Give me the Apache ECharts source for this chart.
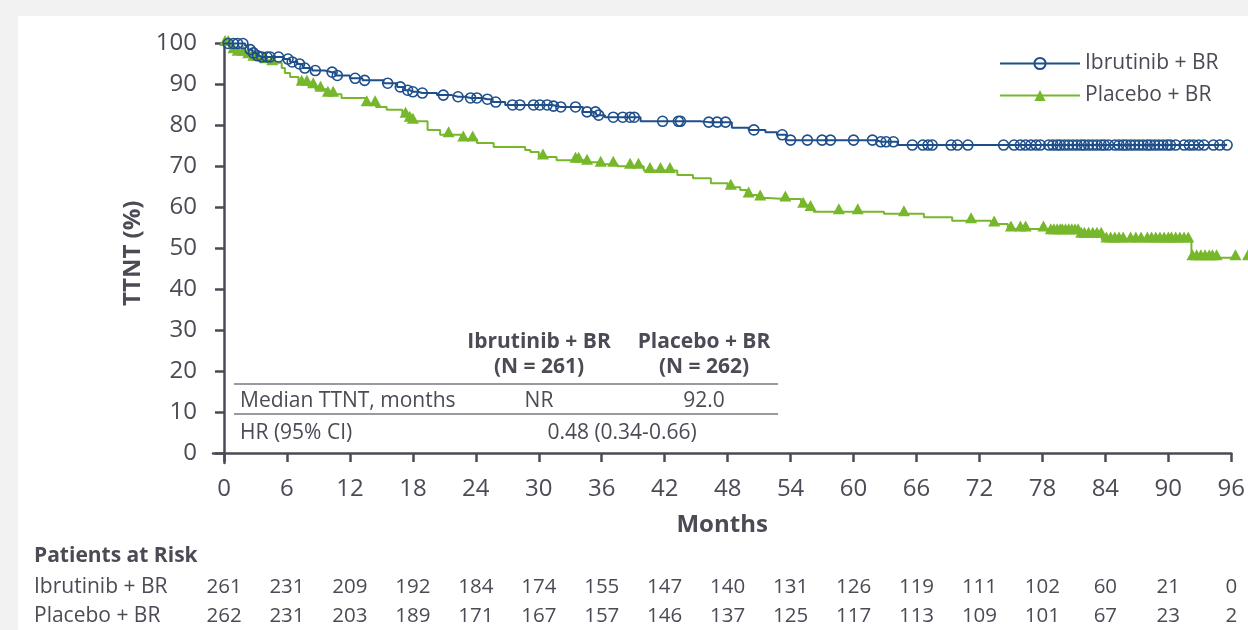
<!DOCTYPE html>
<html>
<head>
<meta charset="utf-8">
<script src="https://cdn.jsdelivr.net/npm/echarts@6/dist/echarts.min.js"></script>
<style>
  html, body { margin: 0; padding: 0; background: #f2f2f2; }
  #panel { position: absolute; left: 18px; top: 16px; right: 0; bottom: 0; background: #ffffff; }
  #chart { position: absolute; left: 0; top: 0; width: 1248px; height: 630px; }
</style>
</head>
<body>
<div id="panel"></div>
<div id="chart"></div>
<script>
// ---------- data ----------
const xTicks = [0, 6, 12, 18, 24, 30, 36, 42, 48, 54, 60, 66, 72, 78, 84, 90, 96];
const yTicks = [0, 10, 20, 30, 40, 50, 60, 70, 80, 90, 100];

const ibrName = 'Ibrutinib + BR';
const pboName = 'Placebo + BR';

// Kaplan-Meier step points [month, TTNT %]
const ibrSteps = [[0,100],[2.0,99.5],[2.3,98.5],[2.7,97.7],[3.1,97.0],[3.4,96.7],[5.7,96.2],[6.3,95.5],[7.0,95.0],[7.5,94.0],[8.4,93.4],[9.6,93.0],[10.6,92.2],[12.0,91.5],[13.2,91.0],[15.2,90.3],[16.5,89.4],[17.2,88.6],[17.7,88.2],[18.5,87.9],[20.3,87.4],[21.7,87.0],[23.0,86.7],[24.6,86.4],[25.6,85.7],[26.8,85.0],[31.3,84.7],[31.8,84.5],[34.2,83.3],[35.5,82.5],[36.3,82.0],[39.7,81.0],[45.4,80.8],[48.4,79.4],[50.0,78.9],[51.6,78.3],[52.7,77.7],[53.6,76.4],[62.2,76.0],[64.2,75.2]];
// censoring times (months)
const ibrCensor = [0.4,0.9,1.3,1.8,2.5,2.8,3.2,3.6,4.1,4.4,5.2,6.1,6.5,7.2,7.7,8.7,10.3,10.8,12.5,13.4,15.6,16.8,17.5,18.0,18.9,20.9,22.3,23.5,24.1,25.1,25.9,27.5,28.2,29.5,30.1,30.8,31.4,32.1,33.5,34.6,35.4,35.7,37.1,38.0,38.7,39.1,41.8,43.3,43.5,46.2,47.0,47.8,50.5,53.2,54.0,55.6,57.0,57.8,60.0,61.8,62.6,63.1,63.8,65.6,66.6,67.1,67.5,69.3,69.9,70.9,74.3,75.3,75.9,76.4,76.9,77.4,77.8,78.6,79.0,79.4,79.7,80.1,80.5,80.9,81.3,81.7,82.0,82.4,82.8,83.2,83.6,83.9,84.3,84.9,85.3,85.7,86.0,86.4,86.8,87.2,87.6,88.0,88.3,88.7,89.1,89.5,89.9,90.2,90.7,91.5,92.0,92.4,92.9,93.4,94.3,94.9,95.6];

const pboSteps = [[0,100],[0.5,99.0],[0.8,98.2],[1.2,97.6],[2.0,97.0],[2.6,96.4],[3.4,95.8],[4.2,95.3],[5.5,94.0],[5.8,92.8],[6.3,91.8],[7.1,90.3],[8.0,89.7],[8.7,88.8],[9.8,87.6],[11.2,86.7],[13.5,85.3],[14.5,84.5],[15.5,83.8],[17.0,82.5],[17.6,81.5],[17.9,81.0],[19.4,78.9],[20.6,77.7],[22.6,76.7],[24.1,75.7],[25.7,74.7],[28.7,74.0],[29.2,73.5],[30.0,72.3],[31.7,71.5],[34.4,71.0],[35.7,70.5],[37.5,70.0],[40.0,69.0],[43.2,67.9],[44.7,67.1],[46.4,65.9],[48.0,64.9],[49.2,64.2],[49.8,63.0],[50.8,62.3],[51.8,62.0],[55.0,60.5],[55.7,59.7],[56.2,58.9],[62.9,58.4],[66.7,57.6],[69.4,56.7],[73.1,55.9],[74.7,54.7],[78.7,54.0],[81.5,53.2],[83.7,52.0],[92.2,47.7]];
const pboCensor = [0.1,0.4,0.9,1.3,1.8,2.3,2.8,3.2,3.9,4.6,7.4,7.9,8.5,9.2,9.9,10.4,13.6,14.4,17.3,17.7,18.0,21.4,22.8,23.7,30.4,33.5,33.8,34.6,35.9,37.1,38.7,39.5,40.6,41.6,42.5,48.3,50.0,51.1,53.5,55.2,55.9,58.6,60.4,64.8,71.2,73.4,75.0,75.9,76.4,78.1,78.8,79.1,79.4,79.7,79.9,80.2,80.5,80.8,81.1,81.4,81.7,82.0,82.4,82.8,83.2,83.6,84.1,84.5,84.9,85.3,85.7,86.4,86.9,87.4,88.0,88.4,88.8,89.2,89.6,90.0,90.3,90.7,91.1,91.5,91.9,92.3,92.7,93.1,93.5,93.9,94.2,94.6,96.4,97.6];

const ibrRisk = [261, 231, 209, 192, 184, 174, 155, 147, 140, 131, 126, 119, 111, 102, 60, 21, 0];
const pboRisk = [262, 231, 203, 189, 171, 167, 157, 146, 137, 125, 117, 113, 109, 101, 67, 23, 2];

// ---------- build KM series data ----------
function kmData(steps, censor) {
  const valueAt = t => { let v = steps[0][1]; for (const s of steps) { if (s[0] <= t) v = s[1]; } return v; };
  const items = steps.map(s => ({ value: [s[0], s[1]], symbol: 'none' }));
  censor.forEach(t => items.push({ value: [t, valueAt(t)] }));
  items.sort((a, b) => a.value[0] - b.value[0]);
  return items;
}

const BLUE = '#1f4f8b';
const GREEN = '#77b72b';
const TXT = '#4b4b55';
const AX = '#4b4b55';
const FONT = '"Open Sans", "Noto Sans", sans-serif';
const FS = 21;

const chart = echarts.init(document.getElementById('chart'), null, { renderer: 'canvas' });

function riskAxis(offset, arr) {
  return {
    type: 'value', gridIndex: 0, position: 'bottom', offset: offset,
    min: -1.05, max: 96,
    axisLine: { show: false }, axisTick: { show: false }, splitLine: { show: false },
    axisLabel: {
      customValues: xTicks, margin: 0, fontSize: 20.5, fontFamily: FONT, color: TXT,
      formatter: v => String(arr[Math.round(v / 6)])
    }
  };
}

const option = {
  animation: false,
  backgroundColor: 'transparent',
  textStyle: { fontFamily: FONT },
  grid: { left: 213, right: 16, top: 43.5, bottom: 167, containLabel: false },
  legend: {
    data: [ibrName, pboName], orient: 'vertical', left: 994, top: 48,
    itemWidth: 80, itemHeight: 14, itemGap: 11,
    textStyle: { fontSize: FS, fontFamily: FONT, color: TXT }
  },
  xAxis: [
    {
      type: 'value', min: -1.05, max: 96,
      name: 'Months', nameLocation: 'middle', nameGap: 50,
      nameTextStyle: { fontSize: 24, fontWeight: 'bold', fontFamily: FONT, color: TXT },
      axisLine: { show: true, lineStyle: { color: AX, width: 2.5 } },
      axisTick: { show: true, customValues: xTicks, length: 9, lineStyle: { color: AX, width: 2.5 } },
      axisLabel: { customValues: xTicks, margin: 14, fontSize: 24, fontFamily: FONT, color: TXT },
      splitLine: { show: false }
    },
    riskAxis(114, ibrRisk),
    riskAxis(143, pboRisk)
  ],
  yAxis: {
    type: 'value', min: -2.44, max: 100,
    name: 'TTNT (%)', nameLocation: 'middle', nameGap: 60, nameRotate: 90,
    nameTextStyle: { fontSize: 24, fontWeight: 'bold', fontFamily: FONT, color: TXT },
    axisLine: { show: true, lineStyle: { color: AX, width: 2.5 } },
    axisTick: { show: true, customValues: yTicks, length: 9, lineStyle: { color: AX, width: 2.5 } },
    axisLabel: { customValues: yTicks, margin: 16, fontSize: 24, fontFamily: FONT, color: TXT },
    splitLine: { show: false }
  },
  series: [
    {
      name: pboName, type: 'line', step: 'end', clip: false,
      data: kmData(pboSteps, pboCensor),
      symbol: 'triangle', symbolSize: [12, 11], symbolOffset: [0, -3], showSymbol: true,
      itemStyle: { color: GREEN },
      lineStyle: { color: GREEN, width: 2 },
      emphasis: { disabled: true }, z: 2
    },
    {
      name: ibrName, type: 'line', step: 'end', clip: false,
      data: kmData(ibrSteps, ibrCensor),
      symbol: 'circle', symbolSize: 10, showSymbol: true,
      itemStyle: { color: 'rgba(255,255,255,0)', borderColor: BLUE, borderWidth: 1.6 },
      lineStyle: { color: BLUE, width: 2 },
      emphasis: { disabled: true }, z: 3
    }
  ],
  graphic: [
    { type: 'text', x: 539, y: 342, style: { text: 'Ibrutinib + BR', font: 'bold ' + FS + 'px ' + FONT, fill: TXT, align: 'center', verticalAlign: 'middle' } },
    { type: 'text', x: 539, y: 367, style: { text: '(N = 261)', font: 'bold ' + FS + 'px ' + FONT, fill: TXT, align: 'center', verticalAlign: 'middle' } },
    { type: 'text', x: 704, y: 342, style: { text: 'Placebo + BR', font: 'bold ' + FS + 'px ' + FONT, fill: TXT, align: 'center', verticalAlign: 'middle' } },
    { type: 'text', x: 704, y: 367, style: { text: '(N = 262)', font: 'bold ' + FS + 'px ' + FONT, fill: TXT, align: 'center', verticalAlign: 'middle' } },
    { type: 'line', shape: { x1: 234, y1: 384, x2: 778, y2: 384 }, style: { stroke: '#777780', lineWidth: 1.5 } },
    { type: 'text', x: 240, y: 401, style: { text: 'Median TTNT, months', font: FS + 'px ' + FONT, fill: TXT, align: 'left', verticalAlign: 'middle' } },
    { type: 'text', x: 539, y: 401, style: { text: 'NR', font: FS + 'px ' + FONT, fill: TXT, align: 'center', verticalAlign: 'middle' } },
    { type: 'text', x: 704, y: 401, style: { text: '92.0', font: FS + 'px ' + FONT, fill: TXT, align: 'center', verticalAlign: 'middle' } },
    { type: 'line', shape: { x1: 234, y1: 414, x2: 778, y2: 414 }, style: { stroke: '#777780', lineWidth: 1.5 } },
    { type: 'text', x: 240, y: 433, style: { text: 'HR (95% CI)', font: FS + 'px ' + FONT, fill: TXT, align: 'left', verticalAlign: 'middle' } },
    { type: 'text', x: 622, y: 433, style: { text: '0.48 (0.34-0.66)', font: FS + 'px ' + FONT, fill: TXT, align: 'center', verticalAlign: 'middle' } },
    { type: 'text', x: 34, y: 556, style: { text: 'Patients at Risk', font: 'bold ' + FS + 'px ' + FONT, fill: TXT, align: 'left', verticalAlign: 'middle' } },
    { type: 'text', x: 34, y: 587, style: { text: ibrName, font: FS + 'px ' + FONT, fill: TXT, align: 'left', verticalAlign: 'middle' } },
    { type: 'text', x: 34, y: 616, style: { text: pboName, font: FS + 'px ' + FONT, fill: TXT, align: 'left', verticalAlign: 'middle' } }
  ]
};
chart.setOption(option);
</script>
</body>
</html>
